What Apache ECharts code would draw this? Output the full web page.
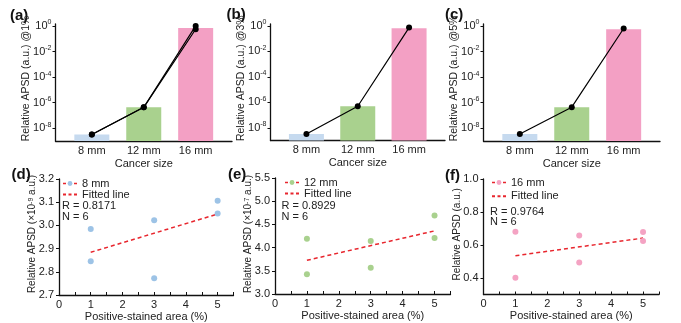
<!DOCTYPE html>
<html>
<head>
<meta charset="utf-8">
<script src="https://cdn.jsdelivr.net/npm/echarts@6/dist/echarts.min.js"></script>
<style>
  html, body { margin: 0; padding: 0; background: #fff; }
  #chart { width: 681px; height: 323px; }
</style>
</head>
<body>
<div id="chart"></div>
<script>
// top row: relative APSD per cancer size, three thresholds
const sizes = ['8 mm', '12 mm', '16 mm'];
const thresholds = ['@1%', '@3%', '@5%'];
const barA = [3.2e-9, 4.3e-7, 0.70];
const lineA1 = [3.2e-9, 4.3e-7, 1.0];
const lineA2 = [3.2e-9, 4.3e-7, 0.55];
const barB = [3.2e-9, 4.9e-7, 0.66];
const lineB = [3.2e-9, 4.9e-7, 0.74];
const barC = [3.5e-9, 4.4e-7, 0.56];
const lineC = [3.5e-9, 4.4e-7, 0.63];
const expTicks = [-8, -6, -4, -2, 0];

// bottom row: APSD vs positive-stained area
const stainedArea = [1, 1, 3, 3, 5, 5];
const apsd8 = [2.985, 2.845, 3.022, 2.772, 3.106, 3.051];   // x1e-9
const apsd12 = [4.19, 3.424, 4.142, 3.567, 4.69, 4.207];    // x1e-7
const apsd16 = [0.681, 0.402, 0.657, 0.494, 0.679, 0.624];
const fitX = [1, 5];
const fit8 = [2.884, 3.049];
const fit12 = [3.726, 4.36];
const fit16 = [0.535, 0.642];
const rValues = ['0.8171', '0.8929', '0.9764'];
const nValues = [6, 6, 6];
const areaTicks = [0, 1, 2, 3, 4, 5];

const FONT = '"Liberation Sans", Arial, sans-serif';
const barColors = ['#c6daef', '#a9d18e', '#f3a0c4'];
const dotColors = ['#9dc3e6', '#a9d18e', '#f4a3c3'];
const fitColor = '#e8262e';
const FLOOR = -9;
const toY = (v) => Math.log10(v) - FLOOR;

const topGrids = [
  { left: 55.5, top: 24, width: 176.5, height: 117 },
  { left: 270.5, top: 24, width: 174.5, height: 116.5 },
  { left: 483.5, top: 24, width: 176.5, height: 117 }
];
const bottomGrids = [
  { left: 59, top: 179, width: 174.5, height: 116 },
  { left: 275, top: 178, width: 175.5, height: 116 },
  { left: 483.5, top: 179, width: 175.5, height: 115.5 }
];

const axisLine = { lineStyle: { color: '#111', width: 1.3 } };
const labelStyle = { color: '#222', fontSize: 11, fontFamily: FONT };
const nameStyle = { color: '#222', fontSize: 10.5, fontFamily: FONT };
const supRich = {
  b: { fontSize: 11, lineHeight: 14, color: '#222', fontFamily: FONT },
  s: { fontSize: 7, lineHeight: 8, verticalAlign: 'top', color: '#222', fontFamily: FONT }
};
const nameRich = {
  s: { fontSize: 7, lineHeight: 8, verticalAlign: 'top', color: '#222', fontFamily: FONT }
};

const grid = [];
const xAxis = [];
const yAxis = [];
const series = [];
const legend = [];
const graphic = [];

// top panels
const bars = [barA, barB, barC];
const lines = [[lineA1, lineA2], [lineB], [lineC]];
topGrids.forEach((g, i) => {
  grid.push(g);
  xAxis.push({
    gridIndex: i, type: 'value', min: 0.3, max: 3.7,
    axisLine, splitLine: { show: false }, axisTick: { show: false },
    axisLabel: {
      ...labelStyle, margin: 4, customValues: [1, 2, 3],
      formatter: (v) => sizes[Math.round(v) - 1]
    },
    name: 'Cancer size', nameLocation: 'middle', nameGap: 17, nameMoveOverlap: false,
    nameTextStyle: labelStyle
  });
  yAxis.push({
    gridIndex: i, type: 'value', min: 0, max: 9.15,
    axisLine: { show: true, ...axisLine }, splitLine: { show: false },
    axisTick: { show: true, length: 3, customValues: expTicks.map((e) => e - FLOOR) },
    axisLabel: {
      margin: 4, customValues: expTicks.map((e) => e - FLOOR),
      formatter: (v) => `{b|10}{s|${Math.round(v + FLOOR)}}`,
      rich: supRich
    },
    name: 'Relative APSD (a.u.) ' + thresholds[i], nameLocation: 'middle',
    nameGap: 23.5, nameMoveOverlap: false,
    nameTextStyle: { ...nameStyle, padding: [0, 0, 0, 8] }
  });
  series.push({
    type: 'bar', name: 'bars' + i, xAxisIndex: i, yAxisIndex: i, barWidth: 35,
    data: bars[i].map((v, k) => ({ value: [k + 1, toY(v)], itemStyle: { color: barColors[k] } }))
  });
  lines[i].forEach((ln, j) => {
    series.push({
      type: 'line', name: 'trend' + i + '_' + j, xAxisIndex: i, yAxisIndex: i, z: 5,
      symbol: 'circle', symbolSize: 6, itemStyle: { color: '#000' },
      lineStyle: { color: '#000', width: 1.2 },
      data: ln.map((v, k) => [k + 1, toY(v)])
    });
  });
});

// bottom panels
const scatters = [apsd8, apsd12, apsd16];
const fits = [fit8, fit12, fit16];
const yNames = ['Relative APSD (×10{s|-9} a.u.)', 'Relative APSD (×10{s|-7} a.u.)', 'Relative APSD (a.u.)'];
const yRanges = [
  { min: 2.7, max: 3.2, interval: 0.1 },
  { min: 3.0, max: 5.5, interval: 0.5 },
  { min: 0.3, max: 1.0, custom: [0.4, 0.6, 0.8, 1.0] }
];
const legendPos = [
  { left: 62, top: 178, gap: 0 },
  { left: 284, top: 177, gap: 0 },
  { left: 491, top: 177, gap: 2.7 }
];
const statsPos = [[62, 206, 217.3], [281.5, 206, 217.3], [490, 211.7, 221.7]];
const yNameGaps = [21.3, 21.4, 21];
const yNameShift = [6, 4, 5];

bottomGrids.forEach((g, j) => {
  const i = j + 3;
  grid.push(g);
  xAxis.push({
    gridIndex: i, type: 'value', min: 0, max: 5.5,
    axisLine, splitLine: { show: false },
    axisTick: { inside: true, length: 3, customValues: [0, 0.5, 1, 1.5, 2, 2.5, 3, 3.5, 4, 4.5, 5, 5.5] },
    axisLabel: { ...labelStyle, margin: 4, customValues: areaTicks },
    name: 'Positive-stained area (%)', nameLocation: 'middle', nameGap: 16, nameMoveOverlap: false,
    nameTextStyle: labelStyle
  });
  const r = yRanges[j];
  yAxis.push({
    gridIndex: i, type: 'value', min: r.min, max: r.max, interval: r.interval,
    axisLine: { show: true, ...axisLine }, splitLine: { show: false },
    axisTick: { show: true, length: 3, customValues: r.custom },
    axisLabel: { ...labelStyle, margin: 5, customValues: r.custom, formatter: (v) => v.toFixed(1) },
    name: yNames[j], nameLocation: 'middle', nameGap: yNameGaps[j], nameMoveOverlap: false,
    nameTextStyle: { ...nameStyle, fontSize: 10, padding: [0, 0, 0, yNameShift[j]], rich: nameRich }
  });
  series.push({
    type: 'line', name: sizes[j], xAxisIndex: i, yAxisIndex: i, z: 4,
    symbol: 'circle', symbolSize: 6, itemStyle: { color: dotColors[j] },
    lineStyle: { opacity: 0 },
    data: stainedArea.map((x, k) => [x, scatters[j][k]])
  });
  series.push({
    type: 'line', name: 'Fitted line', xAxisIndex: i, yAxisIndex: i, z: 3,
    symbol: 'none', lineStyle: { color: fitColor, width: 1.5, type: [4, 3] },
    itemStyle: { color: fitColor },
    data: fitX.map((x, k) => [x, fits[j][k]])
  });
  const lp = legendPos[j];
  legend.push({
    orient: 'vertical', left: lp.left, top: lp.top, padding: 0,
    itemWidth: 14, itemHeight: 6, itemGap: lp.gap, selectedMode: false,
    textStyle: { ...labelStyle, lineHeight: 11 },
    data: [
      { name: sizes[j], lineStyle: { color: fitColor, width: 1.5, type: [3, 2.5], opacity: 1 } },
      { name: 'Fitted line', itemStyle: { opacity: 0 }, lineStyle: { type: [3, 2.5] } }
    ]
  });
  const sp = statsPos[j];
  graphic.push(
    { type: 'text', x: sp[0], y: sp[1], style: { text: 'R = ' + rValues[j], font: '11px ' + FONT, fill: '#222', verticalAlign: 'middle' } },
    { type: 'text', x: sp[0], y: sp[2], style: { text: 'N = ' + nValues[j], font: '11px ' + FONT, fill: '#222', verticalAlign: 'middle' } }
  );
});

// panel letters
const panelLetters = ['(a)', '(b)', '(c)', '(d)', '(e)', '(f)'];
const letterPos = [[10, 16], [226.5, 15], [445, 15], [11.5, 175], [228, 175], [445, 176]];
panelLetters.forEach((t, k) => {
  graphic.push({
    type: 'text', x: letterPos[k][0], y: letterPos[k][1],
    style: { text: t, font: 'bold 15px ' + FONT, fill: '#111', verticalAlign: 'middle' }
  });
});

const chart = echarts.init(document.getElementById('chart'), null, { renderer: 'canvas' });
chart.setOption({
  animation: false,
  textStyle: { fontFamily: FONT },
  grid, xAxis, yAxis, series, legend, graphic
});
</script>
</body>
</html>
